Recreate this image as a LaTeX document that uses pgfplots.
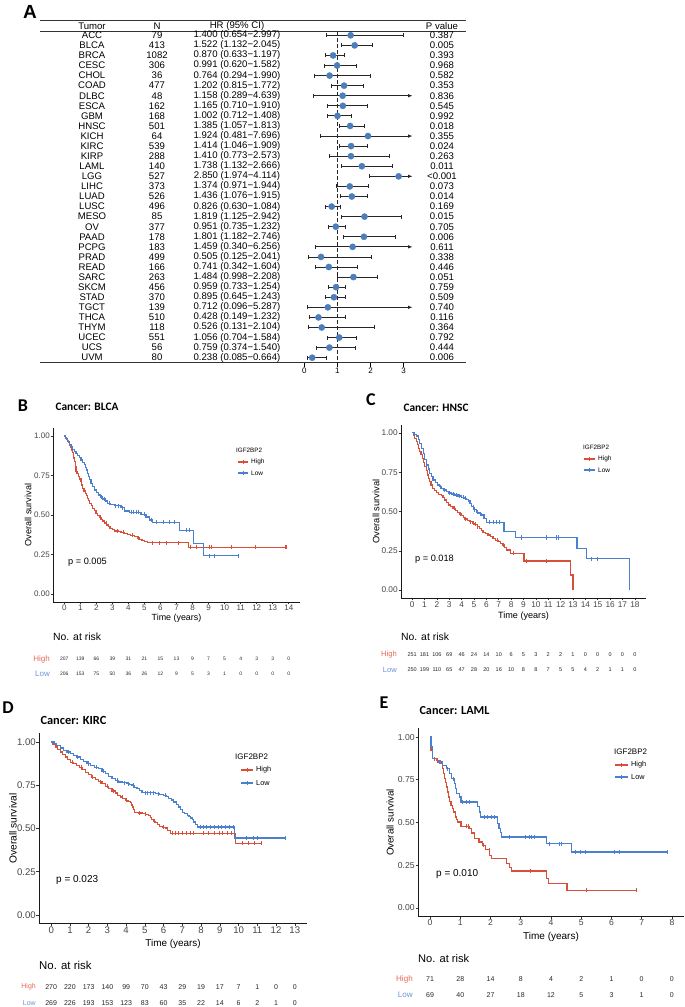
\documentclass[border=0pt]{standalone}
\usepackage{fontspec}
\setmainfont{Liberation Sans}
\newfontfamily\carlito{Carlito}
\usepackage{pgfplots}
\usepackage{pgfplotstable}
\pgfplotsset{compat=1.18}
\usetikzlibrary{arrows.meta}

\definecolor{kmred}{RGB}{216,80,58}
\definecolor{kmblue}{RGB}{74,128,206}
\definecolor{rkred}{RGB}{230,105,85}
\definecolor{rkblue}{RGB}{105,148,214}
\definecolor{dotblue}{RGB}{76,126,188}
\definecolor{tickgray}{RGB}{70,70,70}

\newcommand{\fs}[1]{\fontsize{#1}{#1}\selectfont}

\pgfplotstableread{
tumor n hr lo hi p txt
ACC 79 1.400 0.654 2.997 0.387 {1.400 (0.654−2.997)}
BLCA 413 1.522 1.132 2.045 0.005 {1.522 (1.132−2.045)}
BRCA 1082 0.870 0.633 1.197 0.393 {0.870 (0.633−1.197)}
CESC 306 0.991 0.620 1.582 0.968 {0.991 (0.620−1.582)}
CHOL 36 0.764 0.294 1.990 0.582 {0.764 (0.294−1.990)}
COAD 477 1.202 0.815 1.772 0.353 {1.202 (0.815−1.772)}
DLBC 48 1.158 0.289 4.639 0.836 {1.158 (0.289−4.639)}
ESCA 162 1.165 0.710 1.910 0.545 {1.165 (0.710−1.910)}
GBM 168 1.002 0.712 1.408 0.992 {1.002 (0.712−1.408)}
HNSC 501 1.385 1.057 1.813 0.018 {1.385 (1.057−1.813)}
KICH 64 1.924 0.481 7.696 0.355 {1.924 (0.481−7.696)}
KIRC 539 1.414 1.046 1.909 0.024 {1.414 (1.046−1.909)}
KIRP 288 1.410 0.773 2.573 0.263 {1.410 (0.773−2.573)}
LAML 140 1.738 1.132 2.666 0.011 {1.738 (1.132−2.666)}
LGG 527 2.850 1.974 4.114 {<0.001} {2.850 (1.974−4.114)}
LIHC 373 1.374 0.971 1.944 0.073 {1.374 (0.971−1.944)}
LUAD 526 1.436 1.076 1.915 0.014 {1.436 (1.076−1.915)}
LUSC 496 0.826 0.630 1.084 0.169 {0.826 (0.630−1.084)}
MESO 85 1.819 1.125 2.942 0.015 {1.819 (1.125−2.942)}
OV 377 0.951 0.735 1.232 0.705 {0.951 (0.735−1.232)}
PAAD 178 1.801 1.182 2.746 0.006 {1.801 (1.182−2.746)}
PCPG 183 1.459 0.340 6.256 0.611 {1.459 (0.340−6.256)}
PRAD 499 0.505 0.125 2.041 0.338 {0.505 (0.125−2.041)}
READ 166 0.741 0.342 1.604 0.446 {0.741 (0.342−1.604)}
SARC 263 1.484 0.998 2.208 0.051 {1.484 (0.998−2.208)}
SKCM 456 0.959 0.733 1.254 0.759 {0.959 (0.733−1.254)}
STAD 370 0.895 0.645 1.243 0.509 {0.895 (0.645−1.243)}
TGCT 139 0.712 0.096 5.287 0.740 {0.712 (0.096−5.287)}
THCA 510 0.428 0.149 1.232 0.116 {0.428 (0.149−1.232)}
THYM 118 0.526 0.131 2.104 0.364 {0.526 (0.131−2.104)}
UCEC 551 1.056 0.704 1.584 0.792 {1.056 (0.704−1.584)}
UCS 56 0.759 0.374 1.540 0.444 {0.759 (0.374−1.540)}
UVM 80 0.238 0.085 0.664 0.006 {0.238 (0.085−0.664)}
}\foresttable

\pgfplotsset{
  kmaxis/.style={
    scale only axis, clip=false,
    axis x line*=bottom, axis y line*=left,
    axis line style={line width=0.75pt, black!90, -},
    tick align=outside, major tick length=2.5pt,
    tick style={line width=0.6pt, black!80},
    ymin=-0.05, ymax=1.05,
    ytick={0,0.25,0.5,0.75,1},
    yticklabel style={/pgf/number format/fixed, /pgf/number format/fixed zerofill, /pgf/number format/precision=2},
    ticklabel style={text=tickgray, inner sep=0.6pt},
    /pgf/number format/assume math mode=true,
  },
  khi/.style={const plot, kmred, line width=1.2pt, mark=none},
  klo/.style={const plot, kmblue, line width=1.2pt, mark=none},
  chi/.style={only marks, mark=|, mark size=2.1pt, kmred, mark options={line width=0.5pt}},
  clo/.style={only marks, mark=|, mark size=2.1pt, kmblue, mark options={line width=0.5pt}},
  risk/.style={draw=none, mark=none, nodes near coords, point meta=explicit symbolic,
    nodes near coords style={anchor=center, inner sep=0pt, text=black!85, font=#1}},
  ftext/.style={draw=none, mark=none, nodes near coords, point meta=explicit symbolic,
    nodes near coords style={anchor=center, inner sep=0pt, text=black, font=\fs{9.6}}},
}

\newcommand{\legkey}[4]{%
  \draw[#4, line width=1.1pt] (#1,{1007-#3}) -- (#2,{1007-#3});
  \draw[#4, line width=0.5pt] ({(#1+#2)/2},{1007-#3-2.2}) -- ({(#1+#2)/2},{1007-#3+2.2});}

\begin{document}
\begin{tikzpicture}[x=1pt,y=1pt]

%% ---------------- Panel A: forest plot ----------------
\node[font=\fs{19}\bfseries] at (30,{1007-12}) {A};
\begin{axis}[
  at={(40pt,644.7pt)}, anchor=south west, scale only axis,
  width=426pt, height=341.6pt,
  xmin=-7.985, xmax=4.885, ymin=0.543, ymax=34.449,
  axis line style={draw=none},
  ytick=\empty, xtick={0,1,2,3},
  xtick pos=bottom, tick align=outside, major tick length=4.4pt,
  tick style={line width=0.6pt, black},
  xticklabel style={font=\fs{8}, inner sep=1pt},
  /pgf/number format/assume math mode=true,
  clip=false,
]
\draw[line width=1.1pt, black!80] (axis cs:-7.985,34.449) -- (axis cs:4.885,34.449);
\draw[line width=0.8pt, black!80] (axis cs:-7.985,33.427) -- (axis cs:4.885,33.427);
\draw[line width=0.9pt, black!80] (axis cs:-7.985,0.543) -- (axis cs:4.885,0.543);
\node[font=\fs{9.6}] at (axis cs:-6.414,33.923) {Tumor};
\node[font=\fs{9.6}] at (axis cs:-4.450,33.923) {N};
\node[font=\fs{9.6}] at (axis cs:-2.033,33.923) {HR (95\% CI)};
\node[font=\fs{9.6}] at (axis cs:4.160,33.923) {P value};
\addplot[black!85, line width=0.8pt, dash pattern=on 3.5pt off 2.5pt] coordinates {(1,33.3) (1,0.543)};
\addplot[only marks, mark=none, restrict expr to domain={\thisrow{hi}}{0:3.26},
  error bars/.cd, x dir=both, x explicit,
  error bar style={line width=0.8pt, draw=black!85},
  error mark options={line width=0.8pt, draw=black!85, mark size=2pt, rotate=90}]
  table[x=hr, y expr=33-\coordindex,
        x error minus expr=\thisrow{hr}-\thisrow{lo},
        x error plus expr=\thisrow{hi}-\thisrow{hr}] {\foresttable};
\addplot[only marks, mark=none, restrict expr to domain={\thisrow{hi}}{3.26:100},
  error bars/.cd, x dir=minus, x explicit,
  error bar style={line width=0.8pt, draw=black!85},
  error mark options={line width=0.8pt, draw=black!85, mark size=2pt, rotate=90}]
  table[x=hr, y expr=33-\coordindex,
        x error minus expr=\thisrow{hr}-\thisrow{lo},
        x error plus expr=0] {\foresttable};
\addplot[mark=none, black!85, line width=0.8pt, -{Latex[length=4.5pt,width=3.6pt]},
  quiver={u=3.27-\thisrow{hr}, v=0},
  restrict expr to domain={\thisrow{hi}}{3.26:100}]
  table[x=hr, y expr=33-\coordindex] {\foresttable};
\addplot[only marks, mark=*, mark size=3.1pt, dotblue, mark options={draw=dotblue, fill=dotblue}]
  table[x=hr, y expr=33-\coordindex] {\foresttable};
\addplot[ftext] table[x expr=-6.414, y expr=33-\coordindex, meta=tumor] {\foresttable};
\addplot[ftext] table[x expr=-4.450, y expr=33-\coordindex, meta=n] {\foresttable};
\addplot[ftext] table[x expr=-2.033, y expr=33-\coordindex, meta=txt] {\foresttable};
\addplot[ftext] table[x expr=4.160, y expr=33-\coordindex, meta=p] {\foresttable};
\end{axis}

%% ---------------- Panel B: BLCA ----------------
\node[font=\carlito\fs{18}\bfseries] at (23,{1007-406}) {B};
\node[font=\carlito\fs{11.4}\bfseries, anchor=west] at (52,{1007-407}) {Cancer: BLCA};
\begin{axis}[kmaxis, at={(53pt,405pt)}, anchor=south west, width=247pt, height=174pt,
  xmin=-0.7, xmax=14.7, xtick={0,...,14}, ticklabel style={font=\fs{8}}]
\addplot[khi] coordinates {(0,1) (0.08,0.990) (0.15,0.981) (0.21,0.972) (0.28,0.957) (0.35,0.943) (0.42,0.927) (0.48,0.911) (0.52,0.896) (0.56,0.880) (0.60,0.860) (0.65,0.838) (0.69,0.806) (0.73,0.774) (0.80,0.760) (0.90,0.743) (0.97,0.727) (1.04,0.712) (1.10,0.690) (1.15,0.668) (1.23,0.652) (1.31,0.637) (1.38,0.621) (1.46,0.606) (1.53,0.590) (1.60,0.574) (1.68,0.558) (1.77,0.542) (1.87,0.527) (1.98,0.511) (2.08,0.497) (2.19,0.484) (2.30,0.473) (2.40,0.462) (2.52,0.449) (2.65,0.437) (2.75,0.426) (2.85,0.416) (3.00,0.406) (3.13,0.399) (3.35,0.395) (3.54,0.391) (3.75,0.385) (3.96,0.378) (4.15,0.371) (4.38,0.363) (4.55,0.355) (4.69,0.346) (4.85,0.338) (5.00,0.331) (5.20,0.324) (7.75,0.296) (13.85,0.296)};
\addplot[klo] coordinates {(0,1) (0.1,0.982) (0.21,0.964) (0.32,0.948) (0.42,0.932) (0.52,0.916) (0.63,0.901) (0.73,0.889) (0.83,0.876) (0.94,0.862) (1.04,0.848) (1.15,0.833) (1.25,0.817) (1.33,0.801) (1.40,0.785) (1.46,0.764) (1.52,0.743) (1.58,0.722) (1.67,0.701) (1.77,0.680) (1.875,0.658) (2.0,0.643) (2.15,0.627) (2.27,0.614) (2.4,0.601) (2.55,0.588) (2.71,0.574) (2.9,0.566) (3.13,0.559) (3.54,0.546) (3.75,0.525) (4.06,0.517) (4.79,0.504) (5.1,0.487) (5.31,0.468) (5.52,0.454) (7.19,0.404) (8.06,0.320) (8.69,0.243) (10.9,0.243)};
\addplot[chi] coordinates {(2.25,0.484) (2.6,0.449) (3.3,0.399) (3.65,0.391) (4.25,0.371) (4.6,0.355) (5.5,0.324) (5.9,0.324) (6.35,0.324) (7.1,0.324) (7.83,0.296) (8.23,0.296) (9.06,0.296) (9.17,0.296) (10.4,0.296) (11.9,0.296) (13.75,0.296) (13.85,0.296)};
\addplot[clo] coordinates {(2.3,0.614) (2.5,0.601) (2.8,0.574) (3.2,0.559) (3.35,0.559) (3.6,0.546) (4.15,0.517) (4.3,0.517) (4.5,0.517) (4.6,0.517) (5.0,0.504) (5.4,0.468) (5.75,0.454) (6.15,0.454) (6.56,0.454) (6.88,0.454) (7.6,0.404) (7.81,0.404) (9.02,0.243) (9.375,0.243) (10.87,0.243)};
\addplot[risk=\fs{5}] coordinates {(0,-0.410)[207] (1,-0.410)[139] (2,-0.410)[66] (3,-0.410)[39] (4,-0.410)[31] (5,-0.410)[21] (6,-0.410)[15] (7,-0.410)[13] (8,-0.410)[9] (9,-0.410)[7] (10,-0.410)[5] (11,-0.410)[4] (12,-0.410)[3] (13,-0.410)[3] (14,-0.410)[0]};
\addplot[risk=\fs{5}] coordinates {(0,-0.505)[206] (1,-0.505)[153] (2,-0.505)[75] (3,-0.505)[50] (4,-0.505)[36] (5,-0.505)[26] (6,-0.505)[12] (7,-0.505)[9] (8,-0.505)[5] (9,-0.505)[3] (10,-0.505)[1] (11,-0.505)[0] (12,-0.505)[0] (13,-0.505)[0] (14,-0.505)[0]};
\end{axis}
\node[font=\fs{8.9}] at (176.5,{1007-618}) {Time (years)};
\node[font=\fs{9.1}, rotate=90] at (28,{1007-515}) {Overall survival};
\node[font=\fs{6.3}, anchor=west, inner sep=0pt] at (236,{1007-450}) {IGF2BP2};
\legkey{238}{248}{462}{kmred}
\legkey{238}{248}{473}{kmblue}
\node[font=\fs{6.5}, anchor=west, inner sep=0pt] at (251,{1007-462}) {High};
\node[font=\fs{6.5}, anchor=west, inner sep=0pt] at (251,{1007-473}) {Low};
\node[font=\fs{9.2}, anchor=west, inner sep=0pt] at (68,{1007-562}) {p = 0.005};
\node[font=\fs{10.4}, anchor=west, inner sep=0pt] at (53,{1007-637}) {No. at risk};
\node[font=\fs{8}, anchor=east, inner sep=0pt, text=rkred] at (50,{1007-659}) {High};
\node[font=\fs{8}, anchor=east, inner sep=0pt, text=rkblue] at (50,{1007-674}) {Low};

%% ---------------- Panel C: HNSC ----------------
\node[font=\carlito\fs{18}\bfseries] at (371,{1007-400}) {C};
\node[font=\carlito\fs{11.4}\bfseries, anchor=west] at (400,{1007-408}) {Cancer: HNSC};
\begin{axis}[kmaxis, at={(401pt,409pt)}, anchor=south west, width=245pt, height=173pt,
  xmin=-0.9, xmax=18.9, xtick={0,...,18}, ticklabel style={font=\fs{8.3}}]
\addplot[khi] coordinates {(0,1) (0.1,0.985) (0.22,0.966) (0.32,0.945) (0.43,0.924) (0.52,0.903) (0.62,0.881) (0.71,0.860) (0.81,0.839) (0.91,0.812) (1.02,0.786) (1.13,0.759) (1.24,0.732) (1.33,0.711) (1.43,0.690) (1.53,0.668) (1.64,0.647) (1.80,0.633) (1.96,0.620) (2.15,0.610) (2.37,0.601) (2.50,0.587) (2.64,0.573) (2.78,0.557) (2.91,0.541) (3.10,0.530) (3.31,0.520) (3.50,0.507) (3.66,0.495) (3.82,0.484) (3.98,0.474) (4.12,0.463) (4.25,0.452) (4.45,0.443) (4.65,0.435) (4.85,0.426) (5.06,0.418) (5.25,0.405) (5.46,0.393) (5.60,0.380) (5.73,0.368) (5.93,0.359) (6.13,0.350) (6.34,0.340) (6.54,0.329) (6.74,0.318) (6.94,0.308) (7.14,0.297) (7.34,0.287) (7.48,0.271) (7.61,0.255) (7.96,0.234) (9.04,0.185) (12.78,0.096) (13.0,0.0)};
\addplot[klo] coordinates {(0,1) (0.15,0.99) (0.35,0.980) (0.5,0.957) (0.62,0.934) (0.75,0.902) (0.89,0.870) (1.02,0.833) (1.16,0.796) (1.30,0.770) (1.43,0.743) (1.56,0.721) (1.69,0.700) (1.87,0.684) (2.05,0.669) (2.2,0.658) (2.37,0.648) (2.57,0.637) (2.77,0.626) (2.97,0.618) (3.17,0.611) (3.45,0.605) (3.71,0.599) (3.98,0.591) (4.25,0.584) (4.42,0.575) (4.57,0.567) (4.68,0.549) (4.79,0.531) (4.99,0.513) (5.19,0.495) (5.40,0.486) (5.60,0.478) (5.80,0.455) (6.0,0.431) (7.43,0.372) (8.34,0.335) (13.32,0.265) (14.07,0.2) (17.57,0.0)};
\addplot[chi] coordinates {(3.4,0.520) (3.9,0.484) (4.3,0.452) (4.7,0.435) (4.9,0.426) (5.1,0.418) (5.3,0.405) (6.9,0.318) (7.4,0.287) (8.2,0.234) (9.2,0.185) (10.8,0.185)};
\addplot[clo] coordinates {(2.3,0.658) (2.6,0.637) (3.0,0.618) (3.3,0.611) (3.6,0.605) (3.8,0.599) (4.1,0.591) (4.3,0.584) (4.9,0.531) (5.0,0.513) (5.3,0.495) (5.5,0.486) (6.27,0.431) (6.54,0.431) (6.81,0.431) (7.08,0.431) (8.82,0.335) (10.84,0.335) (11.65,0.335) (11.78,0.335) (14.47,0.2) (15.0,0.2)};
\addplot[risk=\fs{5.5}] coordinates {(0,-0.412)[251] (1,-0.412)[181] (2,-0.412)[106] (3,-0.412)[69] (4,-0.412)[46] (5,-0.412)[24] (6,-0.412)[14] (7,-0.412)[10] (8,-0.412)[6] (9,-0.412)[5] (10,-0.412)[3] (11,-0.412)[2] (12,-0.412)[2] (13,-0.412)[1] (14,-0.412)[0] (15,-0.412)[0] (16,-0.412)[0] (17,-0.412)[0] (18,-0.412)[0]};
\addplot[risk=\fs{5.5}] coordinates {(0,-0.508)[250] (1,-0.508)[199] (2,-0.508)[110] (3,-0.508)[65] (4,-0.508)[47] (5,-0.508)[28] (6,-0.508)[20] (7,-0.508)[16] (8,-0.508)[10] (9,-0.508)[8] (10,-0.508)[8] (11,-0.508)[7] (12,-0.508)[5] (13,-0.508)[5] (14,-0.508)[4] (15,-0.508)[2] (16,-0.508)[1] (17,-0.508)[1] (18,-0.508)[0]};
\end{axis}
\node[font=\fs{9.1}] at (523.5,{1007-616.5}) {Time (years)};
\node[font=\fs{9.3}, rotate=90] at (376,{1007-511.5}) {Overall survival};
\node[font=\fs{6.3}, anchor=west, inner sep=0pt] at (583,{1007-447}) {IGF2BP2};
\legkey{584}{595}{459}{kmred}
\legkey{584}{595}{470}{kmblue}
\node[font=\fs{6.5}, anchor=west, inner sep=0pt] at (598,{1007-459}) {High};
\node[font=\fs{6.5}, anchor=west, inner sep=0pt] at (598,{1007-470}) {Low};
\node[font=\fs{9.2}, anchor=west, inner sep=0pt] at (415,{1007-559}) {p = 0.018};
\node[font=\fs{10.4}, anchor=west, inner sep=0pt] at (401,{1007-637}) {No. at risk};
\node[font=\fs{7.6}, anchor=east, inner sep=0pt, text=rkred] at (397,{1007-655}) {High};
\node[font=\fs{7.6}, anchor=east, inner sep=0pt, text=rkblue] at (397,{1007-670}) {Low};

%% ---------------- Panel D: KIRC ----------------
\node[font=\carlito\fs{18}\bfseries] at (8,{1007-708}) {D};
\node[font=\carlito\fs{12.4}\bfseries, anchor=west] at (37,{1007-720}) {Cancer: KIRC};
\begin{axis}[kmaxis, at={(39pt,83.3pt)}, anchor=south west, width=268pt, height=190.3pt,
  xmin=-0.65, xmax=13.65, xtick={0,...,13}, ticklabel style={font=\fs{9.6}}]
\addplot[khi] coordinates {(0,1) (0.1,0.985) (0.21,0.971) (0.35,0.957) (0.48,0.942) (0.62,0.927) (0.75,0.913) (0.88,0.898) (1.02,0.884) (1.2,0.875) (1.37,0.865) (1.5,0.853) (1.64,0.842) (1.82,0.826) (2.0,0.811) (2.17,0.797) (2.35,0.784) (2.53,0.771) (2.71,0.759) (2.89,0.744) (3.07,0.730) (3.25,0.717) (3.42,0.705) (3.55,0.693) (3.69,0.682) (3.82,0.672) (3.96,0.663) (4.1,0.656) (4.22,0.649) (4.3,0.636) (4.35,0.624) (4.41,0.610) (4.46,0.595) (4.65,0.590) (4.85,0.586) (5.05,0.581) (5.2,0.576) (5.28,0.565) (5.35,0.553) (5.45,0.543) (5.56,0.534) (5.67,0.524) (5.78,0.514) (5.95,0.508) (6.1,0.503) (6.2,0.49) (6.35,0.473) (9.84,0.415) (11.23,0.415)};
\addplot[klo] coordinates {(0,1) (0.15,0.99) (0.30,0.980) (0.48,0.966) (0.66,0.952) (0.84,0.942) (1.02,0.933) (1.2,0.923) (1.37,0.913) (1.55,0.900) (1.73,0.888) (1.91,0.876) (2.09,0.865) (2.31,0.855) (2.53,0.846) (2.71,0.831) (2.89,0.817) (3.07,0.802) (3.25,0.788) (3.42,0.778) (3.6,0.769) (3.82,0.764) (4.05,0.759) (4.18,0.754) (4.31,0.749) (4.45,0.739) (4.58,0.730) (4.72,0.718) (4.85,0.707) (5.56,0.701) (5.8,0.696) (6.01,0.692) (6.15,0.684) (6.27,0.676) (6.4,0.665) (6.54,0.653) (6.68,0.638) (6.81,0.624) (6.9,0.610) (6.99,0.595) (7.13,0.586) (7.26,0.576) (7.35,0.568) (7.43,0.561) (7.52,0.550) (7.61,0.538) (7.7,0.523) (7.79,0.509) (9.8,0.445) (12.51,0.445)};
\addplot[chi] coordinates {(1.1,0.884) (1.6,0.853) (2.2,0.797) (2.6,0.771) (3.0,0.744) (3.3,0.717) (3.8,0.682) (4.0,0.663) (4.7,0.590) (5.0,0.586) (5.5,0.543) (6.0,0.508) (6.45,0.473) (6.6,0.473) (6.8,0.473) (7.0,0.473) (7.2,0.473) (7.4,0.473) (7.6,0.473) (8.1,0.473) (8.4,0.473) (8.7,0.473) (8.95,0.473) (9.15,0.473) (9.4,0.473) (9.6,0.473) (10.2,0.415) (10.5,0.415) (10.85,0.415) (11.2,0.415)};
\addplot[clo] coordinates {(0.9,0.942) (1.4,0.913) (2.0,0.876) (2.4,0.855) (2.8,0.831) (3.5,0.778) (3.9,0.764) (4.1,0.759) (4.4,0.749) (5.0,0.707) (5.15,0.707) (5.3,0.707) (5.45,0.707) (5.7,0.701) (6.1,0.692) (7.95,0.509) (8.1,0.509) (8.3,0.509) (8.5,0.509) (8.7,0.509) (8.9,0.509) (9.1,0.509) (9.3,0.509) (9.5,0.509) (9.7,0.509) (10.4,0.445) (10.8,0.445) (11.0,0.445) (12.5,0.445)};
\addplot[risk=\fs{7}] coordinates {(0,-0.416)[270] (1,-0.416)[220] (2,-0.416)[173] (3,-0.416)[140] (4,-0.416)[99] (5,-0.416)[70] (6,-0.416)[43] (7,-0.416)[29] (8,-0.416)[19] (9,-0.416)[17] (10,-0.416)[7] (11,-0.416)[1] (12,-0.416)[0] (13,-0.416)[0]};
\addplot[risk=\fs{7}] coordinates {(0,-0.508)[269] (1,-0.508)[226] (2,-0.508)[193] (3,-0.508)[153] (4,-0.508)[123] (5,-0.508)[83] (6,-0.508)[60] (7,-0.508)[35] (8,-0.508)[22] (9,-0.508)[14] (10,-0.508)[6] (11,-0.508)[2] (12,-0.508)[1] (13,-0.508)[0]};
\end{axis}
\node[font=\fs{9.9}] at (173,{1007-943.5}) {Time (years)};
\node[font=\fs{10.2}, rotate=90] at (13,{1007-828.5}) {Overall survival};
\node[font=\fs{8}, anchor=west, inner sep=0pt] at (235,{1007-757}) {IGF2BP2};
\legkey{241}{253}{770}{kmred}
\legkey{241}{253}{783}{kmblue}
\node[font=\fs{7.3}, anchor=west, inner sep=0pt] at (256,{1007-770}) {High};
\node[font=\fs{7.3}, anchor=west, inner sep=0pt] at (256,{1007-783}) {Low};
\node[font=\fs{10}, anchor=west, inner sep=0pt] at (56,{1007-880}) {p = 0.023};
\node[font=\fs{11.4}, anchor=west, inner sep=0pt] at (39,{1007-965}) {No. at risk};
\node[font=\fs{7}, anchor=east, inner sep=0pt, text=rkred] at (36,{1007-987}) {High};
\node[font=\fs{7}, anchor=east, inner sep=0pt, text=rkblue] at (36,{1007-1003}) {Low};

%% ---------------- Panel E: LAML ----------------
\node[font=\carlito\fs{18}\bfseries] at (384,{1007-703}) {E};
\node[font=\carlito\fs{12.2}\bfseries, anchor=west] at (416,{1007-711}) {Cancer: LAML};
\begin{axis}[kmaxis, at={(418pt,90.5pt)}, anchor=south west, width=266pt, height=188pt,
  xmin=-0.4, xmax=8.4, xtick={0,...,8}, ticklabel style={font=\fs{8.6}}]
\addplot[khi] coordinates {(0,1) (0.03,0.922) (0.09,0.873) (0.22,0.863) (0.33,0.844) (0.40,0.815) (0.44,0.785) (0.47,0.756) (0.51,0.732) (0.55,0.708) (0.58,0.678) (0.61,0.649) (0.65,0.624) (0.69,0.600) (0.73,0.580) (0.77,0.561) (0.83,0.532) (0.87,0.517) (0.91,0.503) (1.02,0.478) (1.29,0.464) (1.38,0.439) (1.46,0.405) (1.62,0.386) (1.73,0.366) (1.84,0.341) (1.97,0.308) (2.04,0.288) (2.52,0.259) (2.62,0.237) (2.70,0.216) (3.84,0.172) (3.93,0.142) (4.53,0.103) (6.81,0.103)};
\addplot[klo] coordinates {(0,1) (0.03,0.942) (0.09,0.873) (0.25,0.854) (0.40,0.834) (0.53,0.815) (0.64,0.786) (0.72,0.756) (0.80,0.727) (0.85,0.698) (0.88,0.669) (0.97,0.649) (1.02,0.620) (1.57,0.594) (1.64,0.562) (1.68,0.532) (2.23,0.493) (2.28,0.464) (2.33,0.440) (2.37,0.415) (3.84,0.376) (4.67,0.327) (7.85,0.327)};
\addplot[chi] coordinates {(0.15,0.873) (0.25,0.863) (1.19,0.478) (1.25,0.478) (1.76,0.366) (1.95,0.341) (3.33,0.216) (5.16,0.103) (6.81,0.103)};
\addplot[clo] coordinates {(0.31,0.854) (0.58,0.815) (0.75,0.756) (1.08,0.620) (1.19,0.620) (1.3,0.620) (1.79,0.532) (1.9,0.532) (2.01,0.532) (2.12,0.532) (2.61,0.415) (3.16,0.415) (3.27,0.415) (3.36,0.415) (3.43,0.415) (3.93,0.376) (4.26,0.376) (4.33,0.376) (4.8,0.327) (4.97,0.327) (5.13,0.327) (6.1,0.327) (6.25,0.327) (7.85,0.327)};
\addplot[risk=\fs{7}] coordinates {(0,-0.416)[71] (1,-0.416)[28] (2,-0.416)[14] (3,-0.416)[8] (4,-0.416)[4] (5,-0.416)[2] (6,-0.416)[1] (7,-0.416)[0] (8,-0.416)[0]};
\addplot[risk=\fs{7}] coordinates {(0,-0.509)[69] (1,-0.509)[40] (2,-0.509)[27] (3,-0.509)[18] (4,-0.509)[12] (5,-0.509)[5] (6,-0.509)[3] (7,-0.509)[1] (8,-0.509)[0]};
\end{axis}
\node[font=\fs{10}] at (551,{1007-936.5}) {Time (years)};
\node[font=\fs{9.8}, rotate=90] at (390,{1007-822.5}) {Overall survival};
\node[font=\fs{8}, anchor=west, inner sep=0pt] at (614,{1007-752}) {IGF2BP2};
\legkey{615}{628}{765}{kmred}
\legkey{615}{628}{777}{kmblue}
\node[font=\fs{7.3}, anchor=west, inner sep=0pt] at (631,{1007-765}) {High};
\node[font=\fs{7.3}, anchor=west, inner sep=0pt] at (631,{1007-777}) {Low};
\node[font=\fs{10}, anchor=west, inner sep=0pt] at (436,{1007-874}) {p = 0.010};
\node[font=\fs{11.1}, anchor=west, inner sep=0pt] at (418,{1007-959}) {No. at risk};
\node[font=\fs{8.1}, anchor=east, inner sep=0pt, text=rkred] at (413,{1007-979}) {High};
\node[font=\fs{8.1}, anchor=east, inner sep=0pt, text=rkblue] at (413,{1007-995}) {Low};

\pgfresetboundingbox
\useasboundingbox (0,0) rectangle (685,1007);
\end{tikzpicture}
\end{document}
